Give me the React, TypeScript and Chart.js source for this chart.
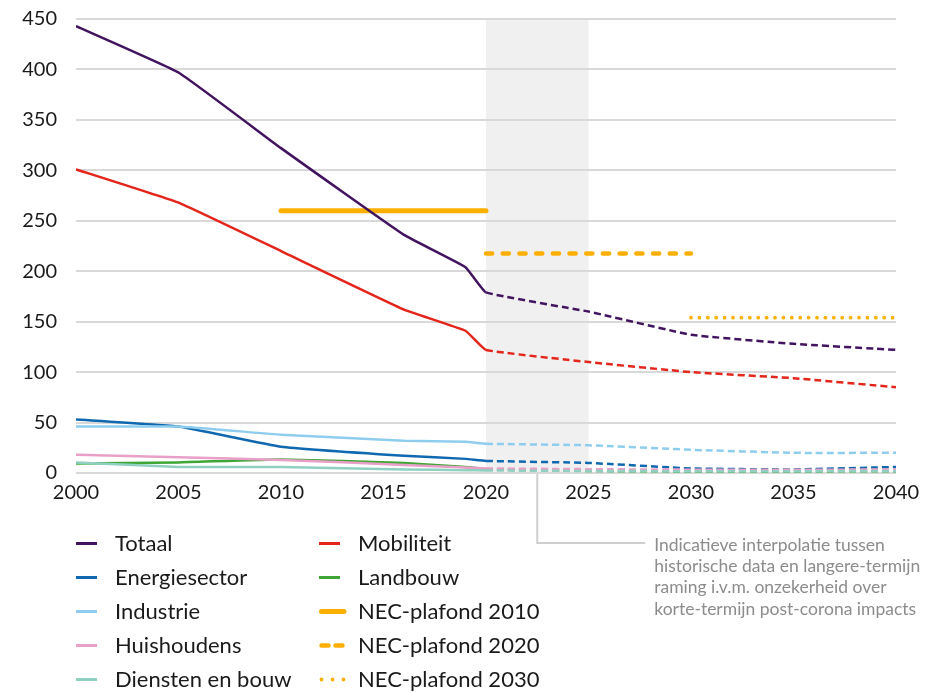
import React, { useEffect, useRef } from 'react';
import { Chart, registerables } from 'chart.js';

Chart.register(...registerables);

// ---- data ----
const years = [2000, 2005, 2010, 2016, 2019, 2020, 2025, 2030, 2035, 2040];
const totaal = [443, 397, 322, 236, 204, 179, 160, 137, 128, 122];
const mobiliteit = [301, 268, 220, 162, 141, 122, 110, 100, 94, 85];
const energiesector = [53, 46, 26, 17, 14, 12, 10, 4.5, 3.5, 6];
const industrie = [46, 46, 38, 32, 31, 29, 27.5, 23, 20, 20];
const huishoudens = [18, 15.5, 13, 8, 5.5, 4.5, 3.8, 3.3, 3.2, 3.5];
const landbouw = [9.5, 10.5, 13.5, 9.8, 6, 4, 2, 1.5, 1.5, 1.8];
const dienstenEnBouw = [10.5, 6, 6, 3.5, 2.8, 2.5, 2, 1.8, 1.8, 2];

const nec2010Years = [2010, 2020];
const nec2010Value = 260;
const nec2020Years = [2020, 2030];
const nec2020Value = 217.5;
const nec2030Years = [2030, 2040];
const nec2030Value = 154;

const projectionStart = 2020;
const bandYears = [2020, 2025];

const xTickMin = 2000;
const xTickMax = 2040;
const xTickStep = 5;
const yTickMin = 0;
const yTickMax = 450;
const yTickStep = 50;

const legendLeft = ['Totaal', 'Energiesector', 'Industrie', 'Huishoudens', 'Diensten en bouw'];
const legendRight = ['Mobiliteit', 'Landbouw', 'NEC-plafond 2010', 'NEC-plafond 2020', 'NEC-plafond 2030'];

const noteLines = [
  'Indicatieve interpolatie tussen',
  'historische data en langere-termijn',
  'raming i.v.m. onzekerheid over',
  'korte-termijn post-corona impacts',
];

const FONT = 'Lato, "Noto Sans", sans-serif';

const seriesDefs = [
  { label: 'Diensten en bouw', values: dienstenEnBouw, color: '#8fd0c1' },
  { label: 'Huishoudens', values: huishoudens, color: '#e9a0c8' },
  { label: 'Landbouw', values: landbouw, color: '#3fa535' },
  { label: 'Industrie', values: industrie, color: '#8fcdee' },
  { label: 'Energiesector', values: energiesector, color: '#1068b0' },
  { label: 'Mobiliteit', values: mobiliteit, color: '#e3251b' },
  { label: 'Totaal', values: totaal, color: '#42145f' },
];

const NEC_COLOR = '#fbb000';

function lineSeries(def: { label: string; values: number[]; color: string }) {
  return {
    label: def.label,
    data: years.map((y, i) => ({ x: y, y: def.values[i] })),
    borderColor: def.color,
    backgroundColor: def.color,
    borderWidth: 2.5,
    pointRadius: 0,
    tension: 0.1,
    fill: false,
    kind: 'series',
    segment: {
      borderDash: (ctx: any) => (ctx.p0.parsed.x >= projectionStart ? [7, 4] : undefined),
    },
  };
}

const bandPlugin = {
  id: 'band',
  beforeDraw(chart: any) {
    const { ctx, chartArea, scales } = chart;
    const x0 = scales.x.getPixelForValue(bandYears[0]);
    const x1 = scales.x.getPixelForValue(bandYears[1]);
    ctx.save();
    ctx.fillStyle = '#f0f0f0';
    ctx.fillRect(x0, chartArea.top, x1 - x0, chartArea.bottom - chartArea.top);
    ctx.restore();
  },
};

const notePlugin = {
  id: 'note',
  afterDraw(chart: any) {
    const { ctx, chartArea, scales } = chart;
    const xm = scales.x.getPixelForValue((bandYears[0] + bandYears[1]) / 2);
    const yEnd = chartArea.bottom + 70;
    ctx.save();
    ctx.strokeStyle = '#cfcfcf';
    ctx.lineWidth = 2;
    ctx.beginPath();
    ctx.moveTo(xm, chartArea.bottom + 1);
    ctx.lineTo(xm, yEnd);
    ctx.lineTo(xm + 108, yEnd);
    ctx.stroke();
    ctx.fillStyle = '#8c8c8c';
    ctx.font = '17.5px ' + FONT;
    ctx.textBaseline = 'middle';
    ctx.textAlign = 'left';
    noteLines.forEach((t, i) => {
      ctx.fillText(t, xm + 117, yEnd + 2 + i * 21.3);
    });
    ctx.restore();
  },
};

const legendPlugin = {
  id: 'customLegend',
  afterDraw(chart: any) {
    const { ctx } = chart;
    const datasets = chart.data.datasets;
    const find = (label: string) => datasets.find((d: any) => d.label === label);
    ctx.save();
    ctx.font = '22px ' + FONT;
    ctx.textBaseline = 'middle';
    ctx.fillStyle = '#1a1a1a';
    const drawCol = (labels: string[], symX: number, textX: number) => {
      labels.forEach((label, row) => {
        const ds = find(label);
        const y = 543.5 + row * 34;
        ctx.save();
        ctx.strokeStyle = ds.borderColor;
        if (ds.kind === 'series') {
          ctx.lineWidth = 3;
          ctx.lineCap = 'butt';
          ctx.setLineDash([]);
          ctx.beginPath();
          ctx.moveTo(symX, y);
          ctx.lineTo(symX + 21, y);
          ctx.stroke();
        } else {
          ctx.lineCap = 'round';
          ctx.lineWidth = ds.borderWidth;
          ctx.setLineDash(ds.legendDash);
          ctx.beginPath();
          ctx.moveTo(symX + 2.5, y);
          ctx.lineTo(symX + 25, y);
          ctx.stroke();
        }
        ctx.restore();
        ctx.fillText(label, textX, y);
      });
    };
    drawCol(legendLeft, 76, 115);
    drawCol(legendRight, 319, 358);
    ctx.restore();
  },
};

export default function App() {
  const canvasRef = useRef<HTMLCanvasElement | null>(null);

  useEffect(() => {
    if (!canvasRef.current) return;
    const datasets: any[] = seriesDefs.map(lineSeries);
    datasets.push({
      label: 'NEC-plafond 2010',
      data: nec2010Years.map((x) => ({ x, y: nec2010Value })),
      borderColor: NEC_COLOR,
      borderWidth: 5,
      borderCapStyle: 'round',
      pointRadius: 0,
      kind: 'nec',
      legendDash: [],
    });
    datasets.push({
      label: 'NEC-plafond 2020',
      data: nec2020Years.map((x) => ({ x, y: nec2020Value })),
      borderColor: NEC_COLOR,
      borderWidth: 4.5,
      borderCapStyle: 'round',
      borderDash: [6.2, 10.5],
      pointRadius: 0,
      kind: 'nec',
      legendDash: [7, 7],
    });
    datasets.push({
      label: 'NEC-plafond 2030',
      data: nec2030Years.map((x) => ({ x, y: nec2030Value })),
      borderColor: NEC_COLOR,
      borderWidth: 3.8,
      borderCapStyle: 'round',
      borderDash: [0, 8.4],
      pointRadius: 0,
      kind: 'nec',
      legendDash: [0, 11],
    });

    const chart = new Chart(canvasRef.current, {
      type: 'line',
      data: { datasets },
      options: {
        responsive: false,
        animation: false,
        devicePixelRatio: 1,
        layout: { autoPadding: false, padding: { left: 0, right: 41, top: 19, bottom: 179 } },
        plugins: {
          legend: { display: false },
          tooltip: { enabled: false },
        },
        scales: {
          x: {
            type: 'linear',
            min: xTickMin,
            max: xTickMax,
            grid: { display: false, drawTicks: false },
            border: { display: false },
            ticks: {
              stepSize: xTickStep,
              padding: 8,
              color: '#1a1a1a',
              font: { family: FONT, size: 20 },
              callback: (v: any) => String(v),
              maxRotation: 0,
            },
            afterFit: (scale: any) => {
              scale.height = 40;
              scale.paddingLeft = 0;
              scale.paddingRight = 0;
            },
          },
          y: {
            min: yTickMin,
            max: yTickMax,
            grid: { color: '#d9d9d9', lineWidth: 2, drawTicks: false },
            border: { display: false },
            ticks: {
              stepSize: yTickStep,
              padding: 19,
              color: '#1a1a1a',
              font: { family: FONT, size: 20 },
            },
            afterFit: (scale: any) => {
              scale.width = 76;
              scale.paddingTop = 0;
              scale.paddingBottom = 0;
            },
          },
        },
      } as any,
      plugins: [bandPlugin, notePlugin, legendPlugin],
    });
    return () => chart.destroy();
  }, []);

  return (
    <div style={{ position: 'absolute', left: 0, top: 0, width: 937, height: 692, background: '#fff' }}>
      <canvas ref={canvasRef} width={937} height={692} />
    </div>
  );
}
